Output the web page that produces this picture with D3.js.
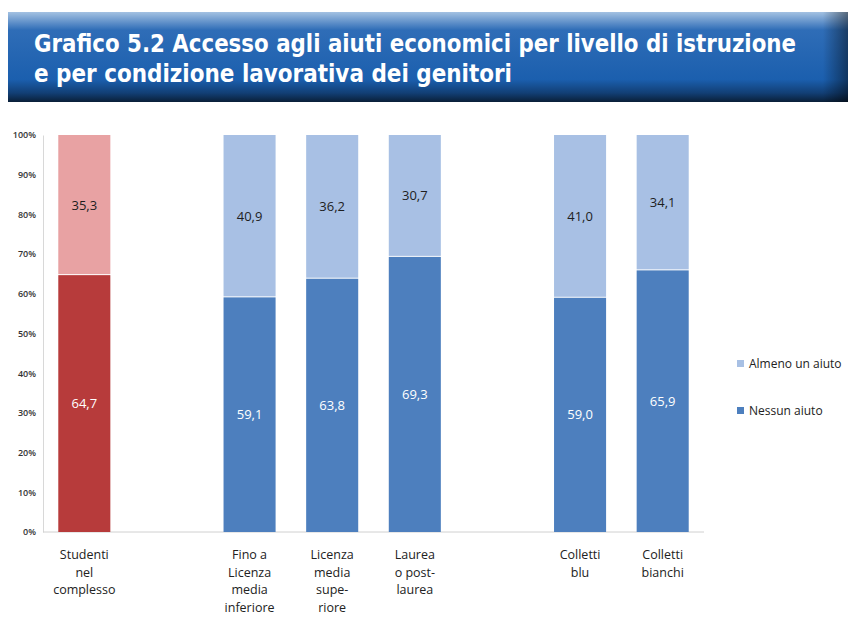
<!DOCTYPE html>
<html>
<head>
<meta charset="utf-8">
<script src="https://cdn.jsdelivr.net/npm/d3@7"></script>
<style>
body { margin: 0; background: #fff; }
svg { display: block; }
</style>
</head>
<body>
<div id="chart"></div>
<script>
// categories ("gap" slots keep the empty space between groups)
var categories = ["Studenti|nel|complesso", "gap1", "Fino a|Licenza|media|inferiore", "Licenza|media|supe-|riore", "Laurea|o post-|laurea", "gap2", "Colletti|blu", "Colletti|bianchi"];
var nessun = [64.7, null, 59.1, 63.8, 69.3, null, 59.0, 65.9];
var almeno = [35.3, null, 40.9, 36.2, 30.7, null, 41.0, 34.1];
var yTicks = [0, 10, 20, 30, 40, 50, 60, 70, 80, 90, 100];
var legendLabels = ["Almeno un aiuto", "Nessun aiuto"];

var width = 848, height = 622;

var svg = d3.select("#chart").append("svg")
	.attr("width", width)
	.attr("height", height);

var defs = svg.append("defs");
var grad = defs.append("linearGradient").attr("id", "titleGrad").attr("x1", 0).attr("y1", 0).attr("x2", 0).attr("y2", 1);
grad.append("stop").attr("offset", "0%").attr("stop-color", "#a3c1e2");
grad.append("stop").attr("offset", "20%").attr("stop-color", "#2f6db7");
grad.append("stop").attr("offset", "75%").attr("stop-color", "#1b5fae");
grad.append("stop").attr("offset", "90%").attr("stop-color", "#123f75");
grad.append("stop").attr("offset", "100%").attr("stop-color", "#0a1f38");
var gradR = defs.append("linearGradient").attr("id", "titleGradR").attr("x1", 0).attr("y1", 0).attr("x2", 1).attr("y2", 0);
gradR.append("stop").attr("offset", "0%").attr("stop-color", "#000").attr("stop-opacity", 0);
gradR.append("stop").attr("offset", "97%").attr("stop-color", "#000").attr("stop-opacity", 0);
gradR.append("stop").attr("offset", "100%").attr("stop-color", "#000").attr("stop-opacity", 0.45);

// title bar
svg.append("rect").attr("x", 8).attr("y", 12).attr("width", 840).attr("height", 90).attr("fill", "url(#titleGrad)");
svg.append("rect").attr("x", 8).attr("y", 12).attr("width", 840).attr("height", 90).attr("fill", "url(#titleGradR)");

var title = svg.append("g")
	.style("font-family", "'Liberation Sans Narrow', 'DejaVu Sans Condensed', sans-serif")
	.style("font-weight", "bold")
	.attr("fill", "#fff");
title.append("text").attr("x", 34).attr("y", 52).attr("font-size", 25)
	.attr("textLength", 762).attr("lengthAdjust", "spacingAndGlyphs")
	.text("Grafico 5.2  Accesso agli aiuti economici per livello di istruzione");
title.append("text").attr("x", 34).attr("y", 82).attr("font-size", 25)
	.attr("textLength", 478).attr("lengthAdjust", "spacingAndGlyphs")
	.text("e per condizione lavorativa dei genitori");

var x = d3.scaleBand()
	.domain(categories)
	.range([43, 704])
	.paddingInner(0.37)
	.paddingOuter(0.185);

var y = d3.scaleLinear()
	.domain([0, 100])
	.range([532, 135]);

// y axis
var yAxis = svg.append("g")
	.attr("transform", "translate(43,0)")
	.call(d3.axisLeft(y).tickValues(yTicks).tickSize(0).tickPadding(7).tickFormat(function(d) { return d + "%"; }));
yAxis.select(".domain").attr("stroke", "#d8d8d8");
yAxis.selectAll("text")
	.style("font-family", "'Open Sans', sans-serif")
	.style("font-size", "9px")
	.style("font-weight", "600")
	.attr("fill", "#333");

// baseline
svg.append("line")
	.attr("x1", 43).attr("x2", 704)
	.attr("y1", y(0)).attr("y2", y(0))
	.attr("stroke", "#d0d0d0");

var colors = {
	red: ["#b73b3b", "#e8a2a3"],
	blue: ["#4d7fbe", "#a8c0e4"]
};

var data = categories.map(function(c, i) {
	return { cat: c, low: nessun[i], high: almeno[i], pal: i == 0 ? colors.red : colors.blue };
}).filter(function(d) { return d.low != null; });

var bars = svg.selectAll(".bar").data(data).enter().append("g").attr("class", "bar");

bars.append("rect")
	.attr("x", function(d) { return x(d.cat); })
	.attr("width", x.bandwidth())
	.attr("y", function(d) { return y(d.low); })
	.attr("height", function(d) { return y(0) - y(d.low); })
	.attr("fill", function(d) { return d.pal[0]; });

bars.append("rect")
	.attr("x", function(d) { return x(d.cat); })
	.attr("width", x.bandwidth())
	.attr("y", function(d) { return y(100); })
	.attr("height", function(d) { return y(d.low) - y(100) - 1; })
	.attr("fill", function(d) { return d.pal[1]; });

function fmt(v) { return v.toFixed(1).replace(".", ","); }

bars.append("text")
	.attr("x", function(d) { return x(d.cat) + x.bandwidth() / 2; })
	.attr("y", function(d) { return y(d.low / 2); })
	.attr("dy", "0.35em")
	.attr("text-anchor", "middle")
	.style("font-family", "'Open Sans', sans-serif")
	.style("font-size", "13px")
	.attr("fill", "#fff")
	.text(function(d) { return fmt(d.low); });

bars.append("text")
	.attr("x", function(d) { return x(d.cat) + x.bandwidth() / 2; })
	.attr("y", function(d) { return y(d.low + d.high / 2); })
	.attr("dy", "0.35em")
	.attr("text-anchor", "middle")
	.style("font-family", "'Open Sans', sans-serif")
	.style("font-size", "13px")
	.attr("fill", "#1e1e1e")
	.text(function(d) { return fmt(d.high); });

// category labels
var labels = svg.selectAll(".cat").data(data).enter().append("text")
	.attr("class", "cat")
	.attr("text-anchor", "middle")
	.style("font-family", "'Open Sans', sans-serif")
	.style("font-size", "12.5px")
	.attr("fill", "#222");
labels.selectAll("tspan")
	.data(function(d) { return d.cat.split("|").map(function(t) { return { t: t, c: d.cat }; }); })
	.enter().append("tspan")
	.attr("x", function(d) { return x(d.c) + x.bandwidth() / 2; })
	.attr("y", function(d, i) { return 559 + i * 17.5; })
	.text(function(d) { return d.t; });

// legend
var legend = svg.selectAll(".legend").data(legendLabels).enter().append("g")
	.attr("class", "legend")
	.attr("transform", function(d, i) { return "translate(737," + (364 + i * 47) + ")"; });
legend.append("rect").attr("x", 0).attr("y", -4).attr("width", 7).attr("height", 7)
	.attr("fill", function(d, i) { return i == 0 ? colors.blue[1] : colors.blue[0]; });
legend.append("text").attr("x", 12).attr("dy", "0.35em")
	.style("font-family", "'Open Sans', sans-serif")
	.style("font-size", "12px")
	.attr("fill", "#222")
	.text(function(d) { return d; });
</script>
</body>
</html>
